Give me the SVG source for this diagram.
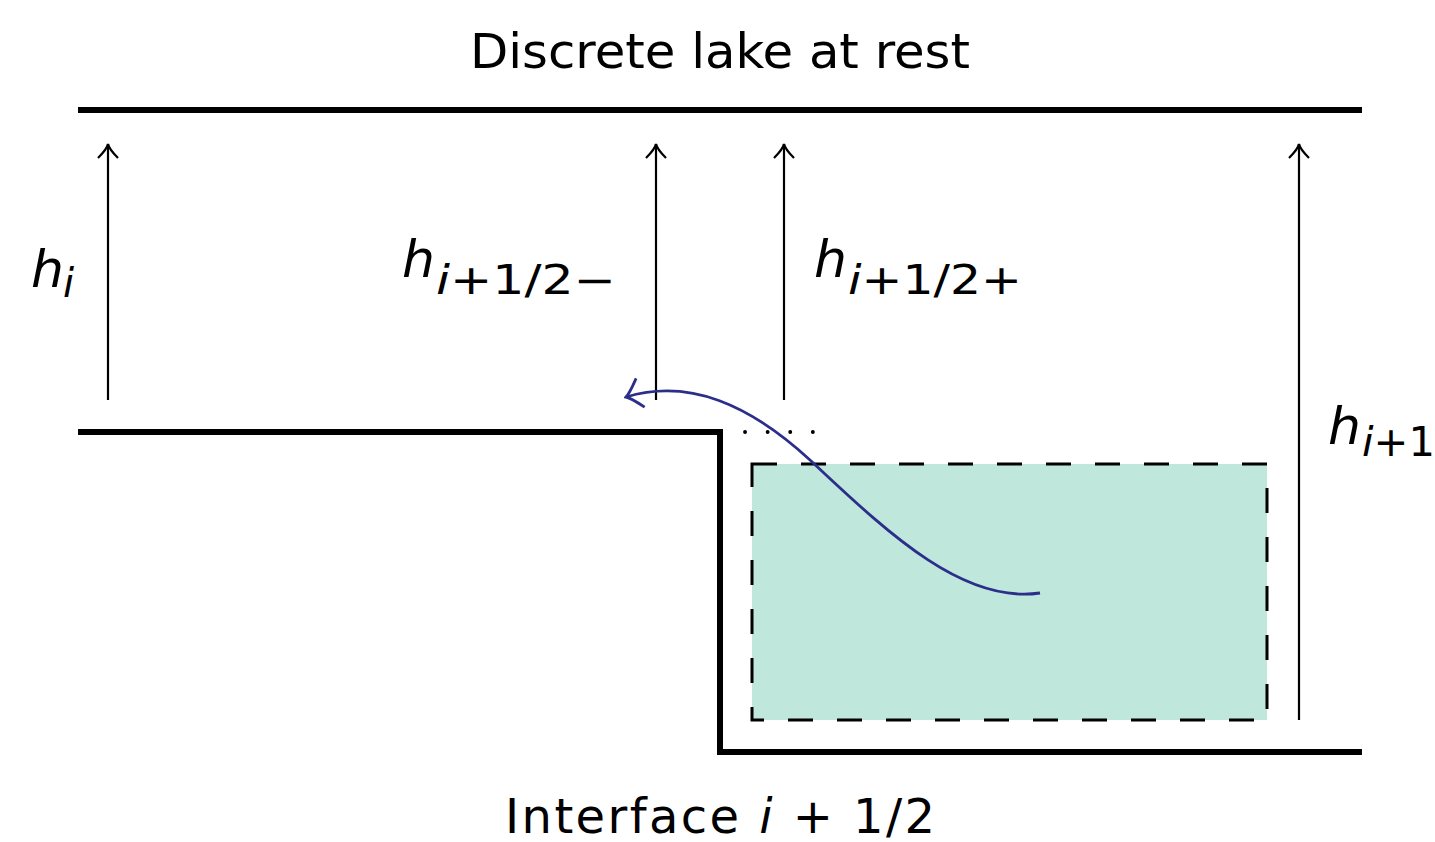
<svg xmlns="http://www.w3.org/2000/svg" width="1435" height="842" viewBox="0 0 1435 842">
<style>
.t{font-family:"DejaVu Sans","Liberation Sans",sans-serif;fill:#000}
.m{font-family:"DejaVu Sans","Liberation Sans",sans-serif;font-style:italic;fill:#000;font-size:52px}
.s{font-family:"DejaVu Sans","Liberation Sans",sans-serif;fill:#000;font-size:40px}
.bed{fill:none;stroke:#000;stroke-width:6}
.arr{fill:none;stroke:#000;stroke-width:2.2}
</style>
<defs>
<marker id="ah" markerWidth="18" markerHeight="26" viewBox="-16 -13 18 26" refX="0" refY="0" orient="auto" markerUnits="userSpaceOnUse">
<path d="M-14,-10 Q-5,-1 0,0 Q-5,1 -14,10" fill="none" stroke="#000" stroke-width="2.2"/>
</marker>
<marker id="bh" markerWidth="20" markerHeight="36" viewBox="-17 -18 19 36" refX="0" refY="0" orient="auto" markerUnits="userSpaceOnUse">
<path d="M-15,-15 Q-4,-2 0,0 Q-4,2 -15,15" fill="none" stroke="#2b2f8a" stroke-width="2.8"/>
</marker>
</defs>
<g id="surface"><line x1="78" y1="110" x2="1362" y2="110" class="bed"/></g>
<g id="bed"><path d="M78,432 H720 V752 H1362" class="bed"/></g>
<g id="cell"><rect x="752" y="464" width="515" height="256" fill="#bfe7dc" stroke="#000" stroke-width="3" stroke-dasharray="25 24"/></g>
<g id="dots"><line x1="745" y1="432" x2="814" y2="432" stroke="#000" stroke-width="3.8" stroke-dasharray="0.1 22.5" stroke-linecap="round"/></g>
<g id="connectors">
<line x1="108" y1="400" x2="108" y2="144" class="arr" marker-end="url(#ah)"/>
<line x1="656" y1="400" x2="656" y2="144" class="arr" marker-end="url(#ah)"/>
<line x1="784" y1="400" x2="784" y2="144" class="arr" marker-end="url(#ah)"/>
<line x1="1299" y1="720" x2="1299" y2="144" class="arr" marker-end="url(#ah)"/>
<path d="M1040,593 C960,605 880,525 810,460 C750,405 690,378 626,397" fill="none" stroke="#2b2f8a" stroke-width="2.8" marker-end="url(#bh)"/>
</g>
<g id="title"><text x="470" y="68" class="t" font-size="48" textLength="500" lengthAdjust="spacingAndGlyphs">Discrete lake at rest</text></g>
<g id="label-hi"><text x="31" y="287" class="m">h</text><text x="63" y="297" class="s" font-style="italic">i</text></g>
<g id="label-hm"><text x="402" y="277" class="m">h</text><text x="436" y="294" class="s" textLength="180" lengthAdjust="spacingAndGlyphs"><tspan font-style="italic">i</tspan>+1/2−</text></g>
<g id="label-hp"><text x="814" y="277" class="m">h</text><text x="848" y="294" class="s" textLength="174" lengthAdjust="spacingAndGlyphs"><tspan font-style="italic">i</tspan>+1/2+</text></g>
<g id="label-hi1"><text x="1328" y="444" class="m">h</text><text x="1362" y="456" class="s" textLength="73" lengthAdjust="spacingAndGlyphs"><tspan font-style="italic">i</tspan>+1</text></g>
<g id="caption"><text x="505" y="833" class="t" font-size="48" textLength="430" lengthAdjust="spacing">Interface <tspan font-style="italic">i</tspan> + 1/2</text></g>
</svg>
